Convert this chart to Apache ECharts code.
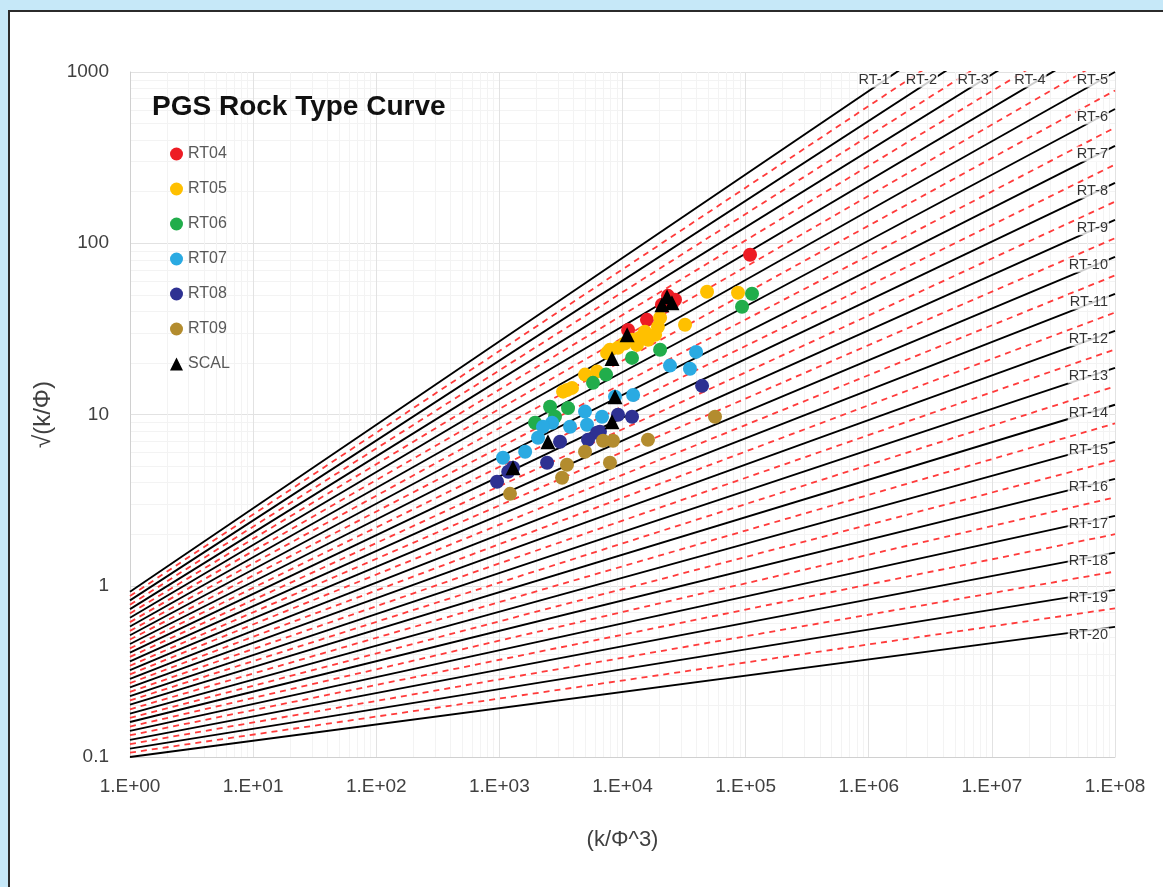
<!DOCTYPE html>
<html><head><meta charset="utf-8">
<script src="https://cdn.jsdelivr.net/npm/echarts@6/dist/echarts.min.js"></script>
<style>
html,body{margin:0;padding:0;background:#c6e8f8;overflow:hidden;}
#frame{position:absolute;left:8px;top:10px;width:1200px;height:900px;background:#fff;border-left:2px solid #2b2b2b;border-top:2px solid #2b2b2b;}
#chart{position:absolute;left:0;top:0;width:1163px;height:887px;}
</style></head><body><div id="frame"></div><div id="chart"></div>
<script>
// Rock type curves: sqrt(k/phi) at k/phi^3 = 1 and at k/phi^3 = 1e8
const rtNames = ['RT-1','RT-2','RT-3','RT-4','RT-5','RT-6','RT-7','RT-8','RT-9','RT-10','RT-11','RT-12','RT-13','RT-14','RT-15','RT-16','RT-17','RT-18','RT-19','RT-20'];
const rtStart = [0.923,0.821,0.730,0.650,0.578,0.514,0.457,0.407,0.362,0.322,0.286,0.255,0.227,0.202,0.179,0.160,0.142,0.126,0.112,0.100];
const rtEnd = [7310,4446,2704,1644,1000,608,370,225,137,83.2,50.6,30.8,18.7,11.4,6.92,4.21,2.56,1.56,0.946,0.575];
// dashed sub-curves between rock types
const subStart = [0.870,0.774,0.689,0.613,0.545,0.485,0.431,0.384,0.341,0.304,0.270,0.240,0.214,0.190,0.169,0.1505,0.134,0.119,0.106];
const subEnd = [5700,3467,2109,1282,780,474,288,175,107,64.9,39.4,24.0,14.6,8.87,5.40,3.28,2.00,1.21,0.738];

const xTickLabels = ['1.E+00','1.E+01','1.E+02','1.E+03','1.E+04','1.E+05','1.E+06','1.E+07','1.E+08'];
const yTickLabels = ['0.1','1','10','100','1000'];

const rt04 = [[15800,35.7],[11100,31.2],[23400,49.3],[26700,46.8],[20900,43.8],[108600,85.7]];
const rt05 = [[48600,52.1],[86700,51.4],[32200,33.4],[20200,36.7],[19400,32.5],[18400,29.2],[16100,27.3],[13800,28.1],[12000,27.3],[10400,26.0],[9190,24.5],[7910,23.9],[7490,22.9],[15200,30.4],[13100,25.5],[6210,17.8],[4960,17.1],[3540,13.9],[3890,14.3],[3290,13.6]];
const rt06 = [[112700,50.7],[93500,42.6],[20200,23.9],[11950,21.4],[7350,17.1],[5760,15.3],[3610,10.9],[2580,11.1],[2830,9.70],[1950,8.95]];
const rt07 = [[39600,23.2],[24300,19.3],[35300,18.5],[12200,13.0],[8690,12.7],[4960,10.4],[6820,9.70],[5150,8.71],[3750,8.48],[2680,8.95],[2260,8.48],[2060,7.31],[1620,6.06],[1070,5.59]];
const rt08 = [[44300,14.7],[11950,9.70],[9190,9.97],[6560,7.93],[6210,7.82],[5250,7.12],[3110,6.93],[2440,5.23],[1290,4.89],[1180,4.63],[957,4.05]];
const rt09 = [[56400,9.70],[16100,7.12],[8370,7.03],[6950,7.03],[4960,6.06],[7910,5.23],[3540,5.09],[3230,4.27],[1220,3.44]];
const scal = [[23000,48.7],[25200,45.0],[20900,43.8],[10900,29.2],[8220,21.2],[8690,12.7],[8220,9.07],[2480,6.93],[1290,4.89]];

const X_MIN = 1, X_MAX = 1e8, Y_MIN = 0.1, Y_MAX = 1000;
const font = 'Liberation Sans, Arial, sans-serif';

const series = [];
subStart.forEach(function (s, i) {
  series.push({type:'line', data:[[X_MIN, s],[X_MAX, subEnd[i]]], symbol:'none', silent:true, clip:true, z:2,
    lineStyle:{color:'#ff3b3b', width:1.8, type:[6,5]}});
});
rtStart.forEach(function (s, i) {
  series.push({type:'line', data:[[X_MIN, s],[X_MAX, rtEnd[i]]], symbol:'none', silent:true, clip:true, z:2,
    lineStyle:{color:'#000', width:1.9}});
});
// label anchor: where each curve leaves the plot (right edge or top edge)
const labelData = rtNames.map(function (n, i) {
  const la = Math.log10(rtStart[i]), lb = Math.log10(rtEnd[i]);
  const ltop = Math.log10(Y_MAX), lx = Math.log10(X_MAX);
  if (lb > ltop) {
    const t = (ltop - la) / (lb - la);
    return {name:n, value:[Math.pow(10, lx * t), Y_MAX]};
  }
  return {name:n, value:[X_MAX, rtEnd[i]]};
});
series.push({type:'scatter', data:labelData, symbolSize:0.1, clip:false, silent:true, z:4,
  itemStyle:{color:'rgba(0,0,0,0)'},
  label:{show:true, position:'left', distance:6, offset:[0,8], formatter:'{b}', fontSize:14.5, color:'#000',
    fontFamily:font, backgroundColor:'#fff', padding:[0,1]}});

const pts = [
  ['RT04', rt04, '#ed1c24', 'circle', 14],
  ['RT05', rt05, '#ffc000', 'circle', 14],
  ['RT06', rt06, '#21ad4b', 'circle', 14],
  ['RT07', rt07, '#2aaae2', 'circle', 14],
  ['RT08', rt08, '#2e3192', 'circle', 14],
  ['RT09', rt09, '#b38c2e', 'circle', 14],
  ['SCAL', scal, '#000000', 'triangle', 15]
];
pts.forEach(function (p) {
  series.push({name:p[0], type:'scatter', data:p[1], symbol:p[3], symbolSize:p[4], z:3,
    itemStyle:{color:p[2], opacity:1}});
});

const chart = echarts.init(document.getElementById('chart'), null, {renderer:'canvas'});
chart.setOption({
  animation:false,
  backgroundColor:'transparent',
  title:{text:'PGS Rock Type Curve', left:152, top:93, padding:0,
    textStyle:{fontFamily:font, fontWeight:'bold', fontSize:28, color:'#111'}},
  legend:{data:pts.map(function (p) { return {name:p[0], icon:p[3]}; }), orient:'vertical', left:170, top:146, padding:0,
    itemWidth:13, itemHeight:13, itemGap:19, selectedMode:false,
    textStyle:{fontSize:16, color:'#595959', fontFamily:font}},
  grid:{left:130, right:48, top:72, bottom:130, containLabel:false, outerBoundsMode:'none'},
  xAxis:{type:'log', logBase:10, min:X_MIN, max:X_MAX, splitNumber:8,
    axisLine:{show:true, lineStyle:{color:'#d0d0d0', width:1}},
    axisTick:{show:false},
    axisLabel:{fontSize:19, color:'#404040', margin:20, fontFamily:font,
      formatter:function (v) { return xTickLabels[Math.round(Math.log10(v))]; }},
    splitLine:{show:true, lineStyle:{color:'#e2e2e2', width:1}},
    minorTick:{show:false, splitNumber:9},
    minorSplitLine:{show:true, lineStyle:{color:'#f3f3f3', width:1}},
    name:'(k/Φ^3)', nameLocation:'middle', nameGap:72,
    nameTextStyle:{fontSize:22, color:'#404040', fontFamily:font}},
  yAxis:{type:'log', logBase:10, min:Y_MIN, max:Y_MAX, splitNumber:4,
    axisLine:{show:true, lineStyle:{color:'#d0d0d0', width:1}},
    axisTick:{show:false},
    axisLabel:{fontSize:19, color:'#404040', margin:21, fontFamily:font,
      formatter:function (v) { return yTickLabels[Math.round(Math.log10(v)) + 1]; }},
    splitLine:{show:true, lineStyle:{color:'#e2e2e2', width:1}},
    minorTick:{show:false, splitNumber:9},
    minorSplitLine:{show:true, lineStyle:{color:'#f3f3f3', width:1}},
    name:'√(k/Φ)', nameLocation:'middle', nameGap:70,
    nameTextStyle:{fontSize:24, color:'#404040', fontFamily:font}},
  series:series
});
</script></body></html>
